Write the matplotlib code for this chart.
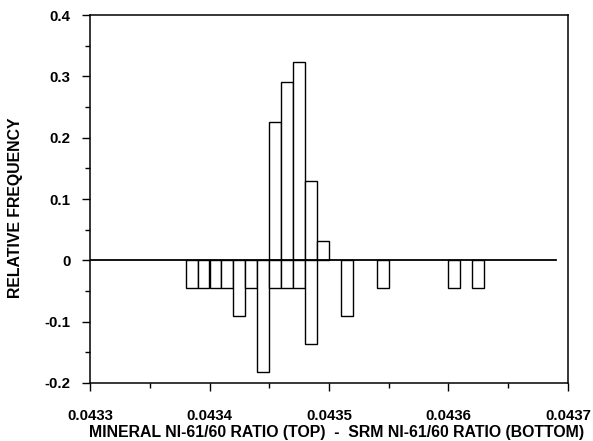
import matplotlib
matplotlib.use("Agg")
import matplotlib.pyplot as plt
from matplotlib.ticker import MultipleLocator
import numpy as np

plt.rcParams['font.family'] = ['Liberation Sans', 'DejaVu Sans']

bin_width = 0.00001

# Mineral (top) histogram: bin left edges and relative frequencies
mineral_left = [0.04345, 0.04346, 0.04347, 0.04348, 0.04349]
mineral_freq = [7/31, 9/31, 10/31, 4/31, 1/31]

# SRM (bottom) histogram: bin left edges and relative frequencies (plotted negative)
srm_left = [0.04338, 0.04339, 0.04340, 0.04341, 0.04342, 0.04343, 0.04344,
            0.04345, 0.04346, 0.04347, 0.04348, 0.04351, 0.04354, 0.04360, 0.04362]
srm_freq = [1/22, 1/22, 1/22, 1/22, 2/22, 1/22, 4/22,
            1/22, 1/22, 1/22, 3/22, 2/22, 1/22, 1/22, 1/22]

xticks = [0.0433, 0.0434, 0.0435, 0.0436, 0.0437]
xtick_labels = ["0.0433", "0.0434", "0.0435", "0.0436", "0.0437"]
yticks = [-0.2, -0.1, 0.0, 0.1, 0.2, 0.3, 0.4]
ytick_labels = ["-0.2", "-0.1", "0", "0.1", "0.2", "0.3", "0.4"]

fig = plt.figure(figsize=(5.93, 4.41), dpi=100)
ax = fig.add_axes([90/593, 1-383/441, (568-90)/593, (383-15)/441])

ax.bar(mineral_left, mineral_freq, width=bin_width, align='edge',
       facecolor='white', edgecolor='black', linewidth=1.0, zorder=2)
ax.bar(srm_left, [-v for v in srm_freq], width=bin_width, align='edge',
       facecolor='white', edgecolor='black', linewidth=1.0, zorder=2)
ax.plot([0.0433, 0.04369], [0, 0], color='black', linewidth=1.3, zorder=3)

ax.set_xlim(0.0433, 0.0437)
ax.set_ylim(-0.2, 0.4)
ax.set_xticks(xticks)
ax.set_xticklabels(xtick_labels)
ax.set_yticks(yticks)
ax.set_yticklabels(ytick_labels)
ax.xaxis.set_minor_locator(MultipleLocator(0.00005))
ax.yaxis.set_minor_locator(MultipleLocator(0.05))
ax.tick_params(axis='both', which='major', direction='out', length=6, width=1,
               labelsize=10.8)
ax.tick_params(axis='x', which='major', pad=13)
ax.tick_params(axis='y', which='major', pad=8)
ax.tick_params(axis='both', which='minor', direction='out', length=3.5, width=1)
for lab in ax.get_xticklabels() + ax.get_yticklabels():
    lab.set_fontweight('bold')
for sp in ax.spines.values():
    sp.set_linewidth(1.1)

ax.set_xlabel("MINERAL NI-61/60 RATIO (TOP)  -  SRM NI-61/60 RATIO (BOTTOM)",
              fontsize=11.4, fontweight='bold', labelpad=3)
ax.xaxis.set_label_coords(247/478, -(433-383)/368)
ax.xaxis.label.set_va('center')
ax.set_ylabel("RELATIVE FREQUENCY", fontsize=11.4, fontweight='bold')
ax.yaxis.set_label_coords(-(90-16)/478, (383-208)/368)
ax.yaxis.label.set_va('center')

fig.savefig("out.png", dpi=100)
